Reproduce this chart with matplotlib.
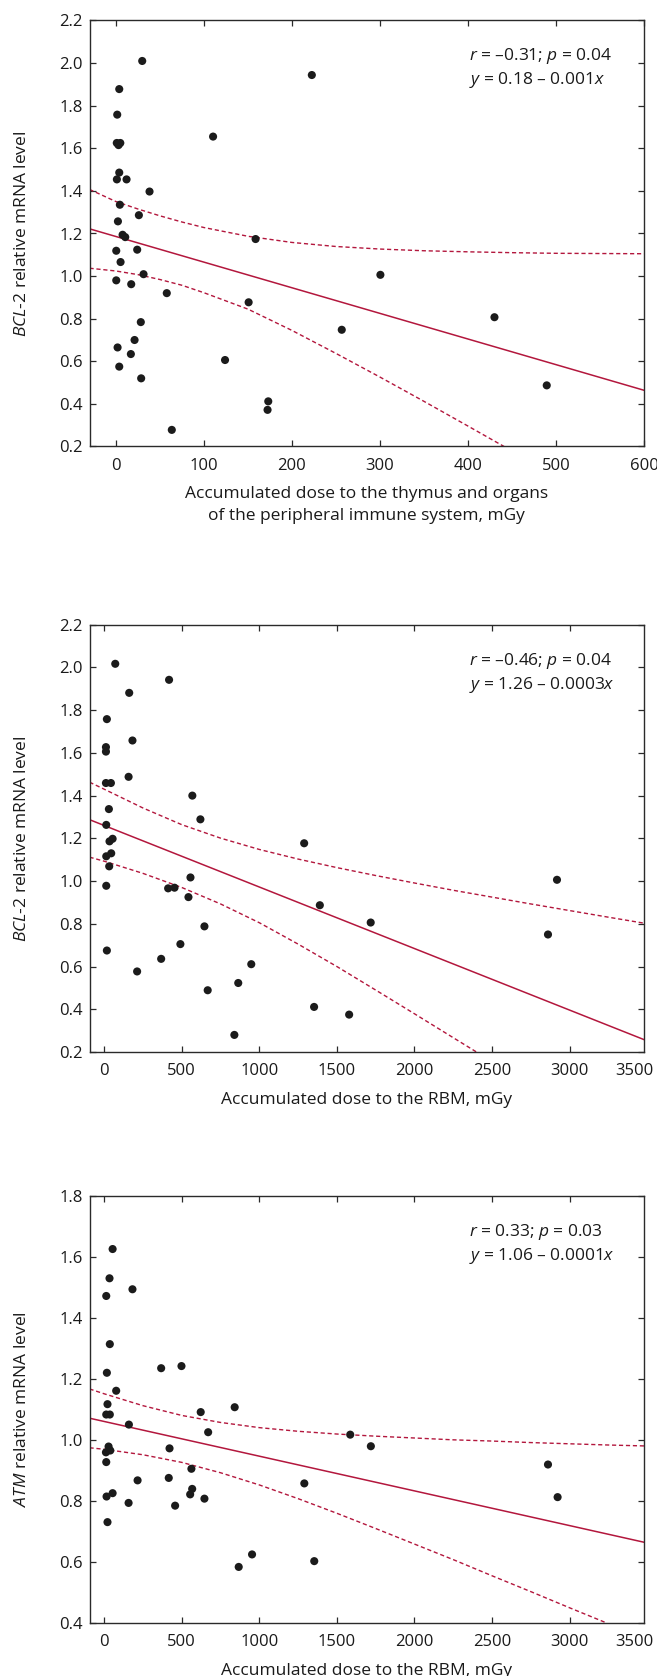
import matplotlib.pyplot as plt

plt.rcParams['font.family'] = ['Open Sans', 'DejaVu Sans']
plt.rcParams['mathtext.fontset'] = 'custom'
plt.rcParams['mathtext.rm'] = 'Open Sans'
plt.rcParams['mathtext.it'] = 'Open Sans:italic'

# --- panel 1: thymus / peripheral immune organs dose vs BCL-2
thy_dose = [29.9, 222.6, 3.8, 1.5, 110.4, 1.0, 3.0, 5.0, 3.8, 1.1, 12.1, 38.2, 4.5, 26.1,
            2.3, 7.6, 10.6, 158.7, 0.4, 24.2, 5.3, 31.4, 0.4, 17.4, 57.8, 150.8, 28.3,
            256.6, 21.2, 1.9, 17.0, 124.0, 3.8, 28.7, 173.1, 172.3, 63.5, 300.5, 430.1, 489.5]
thy_bcl2 = [2.01, 1.944, 1.878, 1.758, 1.655, 1.625, 1.615, 1.625, 1.486, 1.454, 1.454, 1.397,
            1.335, 1.286, 1.257, 1.194, 1.183, 1.174, 1.119, 1.124, 1.066, 1.009, 0.980, 0.962,
            0.920, 0.877, 0.784, 0.748, 0.700, 0.665, 0.634, 0.606, 0.575, 0.520, 0.412, 0.372,
            0.278, 1.006, 0.807, 0.487]
thy_fit_x = [-30, 600]
thy_fit_y = [1.222, 0.464]
thy_up_x = [-30, 0, 25, 50, 75, 100, 150, 200, 250, 300, 350, 400, 450, 500, 550, 600]
thy_up_y = [1.407, 1.350, 1.315, 1.283, 1.254, 1.228, 1.187, 1.158, 1.139, 1.127, 1.119,
            1.114, 1.110, 1.107, 1.106, 1.105]
thy_lo_x = [-30, 0, 25, 50, 75, 100, 150, 200, 250, 300, 350, 400, 441]
thy_lo_y = [1.037, 1.024, 1.007, 0.984, 0.957, 0.922, 0.845, 0.745, 0.637, 0.526, 0.412,
            0.296, 0.2]

# --- panel 2: RBM dose vs BCL-2
rbm_dose = [71, 418, 161, 17, 182, 11, 11, 157, 11, 43, 568, 30, 620, 13, 1289, 54, 34, 45,
            13, 32, 556, 13, 412, 453, 543, 1390, 1718, 646, 491, 17, 367, 948, 212, 864,
            667, 1353, 1579, 839, 2919, 2861]
rbm_bcl2 = [2.017, 1.942, 1.881, 1.758, 1.658, 1.627, 1.606, 1.488, 1.459, 1.459, 1.400,
            1.337, 1.289, 1.263, 1.177, 1.198, 1.186, 1.130, 1.116, 1.069, 1.017, 0.978,
            0.966, 0.969, 0.925, 0.887, 0.806, 0.788, 0.705, 0.675, 0.636, 0.611, 0.577,
            0.523, 0.489, 0.411, 0.375, 0.280, 1.006, 0.750]
bcl_fit_x = [-95, 3480]
bcl_fit_y = [1.2875, 0.258]
bcl_up_x = [-95, 0, 250, 500, 750, 1000, 1250, 1500, 1750, 2000, 2250, 2500, 2750, 3000,
            3250, 3480]
bcl_up_y = [1.463, 1.430, 1.342, 1.264, 1.201, 1.148, 1.103, 1.063, 1.026, 0.991, 0.957,
            0.925, 0.893, 0.862, 0.831, 0.803]
bcl_lo_x = [-95, 0, 250, 500, 750, 1000, 1250, 1500, 1750, 2000, 2250, 2400]
bcl_lo_y = [1.112, 1.093, 1.036, 0.970, 0.893, 0.805, 0.705, 0.600, 0.490, 0.379, 0.267, 0.2]

# --- panel 3: RBM dose vs ATM
atm_dose = [54, 34, 182, 13, 36, 367, 498, 17, 77, 21, 841, 622, 13, 36, 159, 670, 1586,
            1719, 421, 28, 39, 11, 13, 562, 416, 215, 1290, 567, 54, 554, 15, 646, 157, 457,
            21, 953, 1354, 867, 2861, 2923]
atm_lvl = [1.626, 1.530, 1.494, 1.472, 1.314, 1.235, 1.242, 1.220, 1.161, 1.117, 1.107,
           1.091, 1.083, 1.083, 1.050, 1.025, 1.017, 0.979, 0.972, 0.978, 0.965, 0.959,
           0.927, 0.905, 0.875, 0.867, 0.857, 0.839, 0.825, 0.821, 0.814, 0.807, 0.793,
           0.784, 0.730, 0.624, 0.602, 0.583, 0.919, 0.812]
atm_fit_x = [-95, 3480]
atm_fit_y = [1.071, 0.664]
atm_up_x = [-95, 0, 250, 500, 750, 1000, 1250, 1500, 1750, 2000, 2250, 2500, 2750, 3000,
            3250, 3480]
atm_up_y = [1.167, 1.151, 1.112, 1.080, 1.057, 1.040, 1.028, 1.019, 1.012, 1.006, 1.000,
            0.996, 0.991, 0.987, 0.983, 0.980]
atm_lo_x = [-95, 0, 250, 500, 750, 1000, 1250, 1500, 1750, 2000, 2250, 2500, 2750, 3000,
            3235]
atm_lo_y = [0.974, 0.969, 0.951, 0.926, 0.892, 0.852, 0.807, 0.759, 0.709, 0.658, 0.607,
            0.554, 0.502, 0.449, 0.4]

RED = '#b3173d'
DOT = '#1b1b1b'
INK = '#1a1a1a'
W, H = 657, 1676


def panel(box, x, y, fit_x, fit_y, up_x, up_y, lo_x, lo_y, xlim, ylim, xticks, yticks,
          xlabel, ylabel, txt1, txt2, xlab_y):
    l, t, r, b = box
    ax = fig.add_axes([l / W, 1 - b / H, (r - l) / W, (b - t) / H])
    ax.plot(fit_x, fit_y, color=RED, lw=1.1, zorder=2)
    ax.plot(up_x, up_y, color=RED, lw=1.0, ls=(0, (3, 2)), zorder=2)
    ax.plot(lo_x, lo_y, color=RED, lw=1.0, ls=(0, (3, 2)), zorder=2)
    ax.scatter(x, y, s=34, color=DOT, edgecolor='none', zorder=3)
    ax.set_xlim(*xlim)
    ax.set_ylim(*ylim)
    ax.set_xticks([v for v in xticks if v <= xlim[1]])
    ax.set_yticks(yticks)
    ax.set_yticklabels(['%.1f' % v for v in yticks])
    for s in ax.spines.values():
        s.set_linewidth(1.0)
        s.set_color('#2a2a2a')
    ax.tick_params(direction='in', top=True, right=True, length=4, width=0.9,
                   labelsize=12, colors='#2a2a2a', labelcolor=INK)
    ax.tick_params(axis='x', pad=8)
    ax.tick_params(axis='y', pad=5)
    ax.set_xlabel(xlabel, fontsize=12.5, color=INK, linespacing=1.5)
    ax.xaxis.set_label_coords(0.5, xlab_y)
    ax.set_ylabel(ylabel, fontsize=12.5, color=INK, va='center')
    ax.yaxis.set_label_coords(-0.122, 0.5)
    ax.text(0.6835, 0.916, txt1, transform=ax.transAxes, fontsize=12.5, va='center',
            color=INK)
    ax.text(0.6835, 0.860, txt2, transform=ax.transAxes, fontsize=12.5, va='center',
            color=INK)
    return ax


fig = plt.figure(figsize=(W / 100, H / 100), dpi=100)

panel((89.5, 20.5, 644, 446.5), thy_dose, thy_bcl2, thy_fit_x, thy_fit_y,
      thy_up_x, thy_up_y, thy_lo_x, thy_lo_y, (-30, 600), (0.2, 2.2),
      [0, 100, 200, 300, 400, 500, 600], [0.2, 0.4, 0.6, 0.8, 1.0, 1.2, 1.4, 1.6, 1.8, 2.0, 2.2],
      'Accumulated dose to the thymus and organs\nof the peripheral immune system, mGy',
      r'$BCL$-$\mathit{2}$ relative mRNA level',
      r'$r$ = –0.31; $p$ = 0.04', r'$y$ = 0.18 – 0.001$x$', -0.093)

ax2 = panel((89.5, 624.7, 644, 1052), rbm_dose, rbm_bcl2, bcl_fit_x, bcl_fit_y,
            bcl_up_x, bcl_up_y, bcl_lo_x, bcl_lo_y, (-95, 3480), (0.2, 2.2),
            [0, 500, 1000, 1500, 2000, 2500, 3000], [0.2, 0.4, 0.6, 0.8, 1.0, 1.2, 1.4, 1.6, 1.8, 2.0, 2.2],
            'Accumulated dose to the RBM, mGy',
            r'$BCL$-$\mathit{2}$ relative mRNA level',
            r'$r$ = –0.46; $p$ = 0.04', r'$y$ = 1.26 – 0.0003$x$', -0.094)

ax3 = panel((89.5, 1196, 644, 1622.7), atm_dose, atm_lvl, atm_fit_x, atm_fit_y,
            atm_up_x, atm_up_y, atm_lo_x, atm_lo_y, (-95, 3480), (0.4, 1.8),
            [0, 500, 1000, 1500, 2000, 2500, 3000], [0.4, 0.6, 0.8, 1.0, 1.2, 1.4, 1.6, 1.8],
            'Accumulated dose to the RBM, mGy',
            r'$ATM$ relative mRNA level',
            r'$r$ = 0.33; $p$ = 0.03', r'$y$ = 1.06 – 0.0001$x$', -0.0935)

# last dose label sits at the right edge
for ax in (ax2, ax3):
    ax.annotate('3500', xy=(1, 0), xycoords='axes fraction', xytext=(-7, -8),
                textcoords='offset points', ha='center', va='top', fontsize=12,
                color=INK)

fig.savefig('out.png', dpi=100)
plt.close(fig)
